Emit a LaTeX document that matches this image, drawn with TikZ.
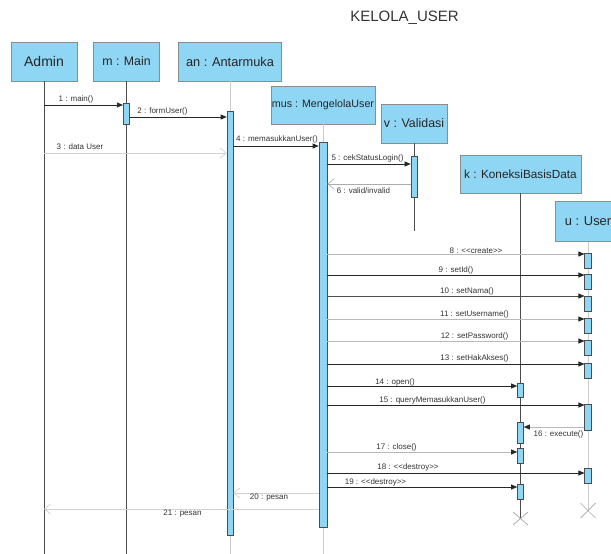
\documentclass[tikz,border=0pt]{standalone}
\usepackage{fontspec}
\setmainfont{Liberation Sans}
\usetikzlibrary{arrows.meta}
\definecolor{boxblue}{RGB}{143,213,244}
\definecolor{boxline}{RGB}{140,140,140}
\begin{document}
\begin{tikzpicture}[x=1pt,y=-1pt,
  head/.style={draw=boxline, fill=boxblue, line width=0.8pt, inner sep=0pt, minimum height=39pt, text=black!85},
  act/.style={draw=gray!60!black, fill=boxblue, line width=0.6pt, inner sep=0pt, minimum width=6.5pt},
  life/.style={draw=gray!60!black, line width=0.7pt},
  lifelight/.style={draw=gray!40, line width=0.7pt},
  call/.style={draw=black!85, line width=0.7pt, -{Triangle[length=6pt,width=5pt,color=black!85]}},
  calllight/.style={call, draw=gray!55},
  ret/.style={draw=gray!50, line width=0.7pt, -{Straight Barb[length=6pt,width=10pt]}},
  lbl/.style={font=\fontsize{8}{9}\selectfont, inner sep=0pt, text=black!80},
  xmark/.style={draw=gray!70, line width=0.7pt}]
\useasboundingbox (0,0) rectangle (611,554);
% title
\node[text=black!80] (title) at (404.5,18) {\fontsize{15}{17}\selectfont KELOLA\_USER};
% heads
\node[head, minimum width=66pt] (admin) at (44,61.5) {\fontsize{14}{16}\selectfont Admin};
\node[head, minimum width=66pt] (main) at (126.5,61.5) {\fontsize{12.3}{14}\selectfont m : Main};
\node[head, minimum width=103pt] (an) at (230,61.5) {\fontsize{12.8}{14}\selectfont an : Antarmuka};
\node[head, minimum width=104pt, minimum height=38pt] (mus) at (323,105) {\fontsize{10.7}{12}\selectfont mus : MengelolaUser};
\node[head, minimum width=66pt] (v) at (414,123.5) {\fontsize{12.4}{14}\selectfont v : Validasi};
\node[head, minimum width=121pt, minimum height=38pt] (k) at (520.5,174) {\fontsize{11.8}{14}\selectfont k : KoneksiBasisData};
\node[head, minimum width=66pt, minimum height=40pt] (u) at (588,221.5) {\fontsize{12.9}{14}\selectfont u : User};
% lifeline ends
\coordinate (xK) at (520.5,518.5);
\coordinate (xU) at (588,510.5);
% lifelines
\draw[life] (admin.south) -- (admin |- 0,554);
\draw[life] (main.south) -- (main |- 0,554);
\draw[lifelight] (an.south) -- (an |- 0,554);
\draw[lifelight] (mus.south) -- (mus |- 0,554);
\draw[life] (v.south) -- (v |- 0,231);
\draw[life] (k.south) -- (xK);
\draw[lifelight] (u.south) -- (xU);
% activations
\node[act, minimum height=21pt] (actMain) at (126.5,113.5) {};
\node[act, minimum height=424pt, minimum width=6pt] (actAn) at (230,323) {};
\node[act, minimum height=385pt, minimum width=8pt] (actMus) at (323,334.5) {};
\node[act, minimum height=41pt, minimum width=6pt] (actV) at (414,176.5) {};
\node[act, minimum height=15pt] (actU8) at (588,260.5) {};
\node[act, minimum height=15pt] (actU9) at (588,281.5) {};
\node[act, minimum height=15pt] (actU10) at (588,303.5) {};
\node[act, minimum height=15pt] (actU11) at (588,326) {};
\node[act, minimum height=15pt] (actU12) at (588,347.5) {};
\node[act, minimum height=15pt] (actU13) at (588,370.5) {};
\node[act, minimum height=14pt, minimum width=6pt] (actK14) at (520.5,390) {};
\node[act, minimum height=26pt] (actU15) at (588,417) {};
\node[act, minimum height=21pt, minimum width=6pt] (actK16) at (520.5,432.5) {};
\node[act, minimum height=15pt, minimum width=6pt] (actK17) at (520.5,455.5) {};
\node[act, minimum height=15pt] (actU18) at (588,475.5) {};
\node[act, minimum height=15pt, minimum width=6pt] (actK19) at (520.5,491.5) {};
% messages
\draw[call] (admin |- 0,105) -- (actMain.west |- 0,105);
\draw[call] (actMain.east |- 0,117) -- (actAn.west |- 0,117);
\draw[ret, draw=gray!35] (admin |- 0,153) -- (actAn.west |- 0,153);
\draw[call] (actAn.east |- 0,146) -- (actMus.west |- 0,146);
\draw[call] (actMus.east |- 0,164) -- (actV.west |- 0,164);
\draw[ret, draw=gray!65] (actV.west |- 0,184) -- (actMus.east |- 0,184);
\draw[calllight] (actMus.east |- 0,254) -- (actU8.west |- 0,254);
\draw[call] (actMus.east |- 0,275) -- (actU9.west |- 0,275);
\draw[call, draw=black!70] (actMus.east |- 0,296) -- (actU10.west |- 0,296);
\draw[calllight] (actMus.east |- 0,319) -- (actU11.west |- 0,319);
\draw[calllight] (actMus.east |- 0,341) -- (actU12.west |- 0,341);
\draw[call] (actMus.east |- 0,364) -- (actU13.west |- 0,364);
\draw[call] (actMus.east |- 0,386) -- (actK14.west |- 0,386);
\draw[call] (actMus.east |- 0,405) -- (actU15.west |- 0,405);
\draw[calllight] (actU15.west |- 0,427) -- (actK16.east |- 0,427);
\draw[calllight] (actMus.east |- 0,452) -- (actK17.west |- 0,452);
\draw[call] (actMus.east |- 0,473) -- (actU18.west |- 0,473);
\draw[call] (actMus.east |- 0,487) -- (actK19.west |- 0,487);
\draw[ret, draw=gray!35] (actMus.west |- 0,493) -- (actAn.east |- 0,493);
\draw[ret, draw=gray!35] (actMus.west |- 0,509) -- (admin |- 0,509);
% labels
\node[lbl] (l1) at (76,99) {1 : main()};
\node[lbl] (l2) at (162.5,111) {2 : formUser()};
\node[lbl] (l3) at (80,147) {3 : data User};
\node[lbl] (l4) at (277,139.5) {4 : memasukkanUser()};
\node[lbl] (l5) at (367.5,158) {5 : cekStatusLogin()};
\node[lbl] (l6) at (363.5,190.5) {6 : valid/invalid};
\node[lbl] (l8) at (476,251) {8 : <{}<create>{}>};
\node[lbl] (l9) at (456,270.5) {9 : setId()};
\node[lbl] (l10) at (467,291.5) {10 : setNama()};
\node[lbl] (l11) at (474.5,314.5) {11 : setUsername()};
\node[lbl] (l12) at (474.5,336.5) {12 : setPassword()};
\node[lbl] (l13) at (474.5,358) {13 : setHakAkses()};
\node[lbl] (l14) at (395,382) {14 : open()};
\node[lbl] (l15) at (432.5,400.5) {15 : queryMemasukkanUser()};
\node[lbl] (l16) at (558.5,434) {16 : execute()};
\node[lbl] (l17) at (396.5,447) {17 : close()};
\node[lbl] (l18) at (408,467) {18 : <{}<destroy>{}>};
\node[lbl] (l19) at (375.5,482) {19 : <{}<destroy>{}>};
\node[lbl] (l20) at (269,497.5) {20 : pesan};
\node[lbl] (l21) at (182.5,514) {21 : pesan};
% destroy marks
\draw[xmark] (xK) +(-7.5,-6.5) -- +(7.5,6.5) +(-7.5,6.5) -- +(7.5,-6.5);
\draw[xmark] (xU) +(-7.5,-7.5) -- +(7.5,7.5) +(-7.5,7.5) -- +(7.5,-7.5);
\end{tikzpicture}
\end{document}
